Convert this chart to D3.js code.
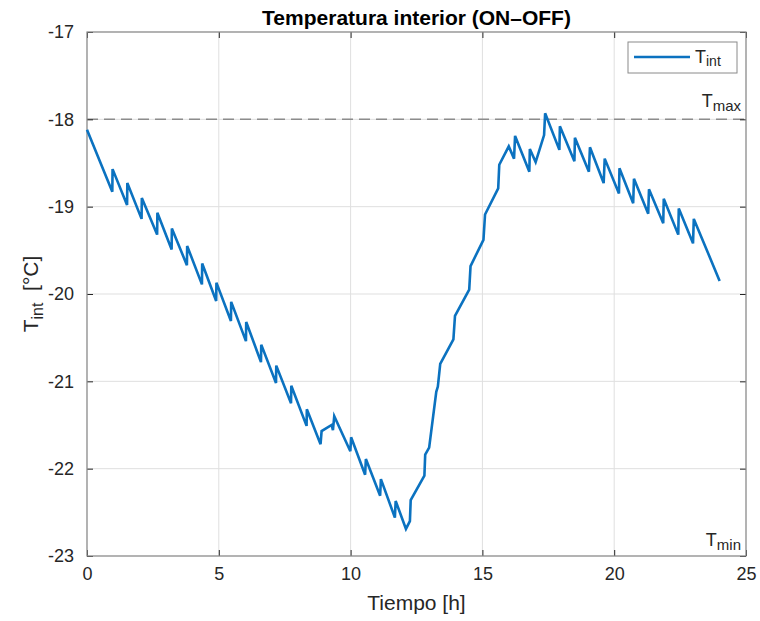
<!DOCTYPE html>
<html>
<head>
<meta charset="utf-8">
<script src="https://cdn.jsdelivr.net/npm/d3@7"></script>
<style>
body{margin:0;background:#fff;}
svg{display:block;}
text{font-family:"Liberation Sans",Arial,sans-serif;}
</style>
</head>
<body>
<div id="chart"></div>
<script>
// Data
const time = [0,0.96,0.97,1.52,1.53,2.07,2.08,2.66,2.67,3.21,3.22,3.79,3.80,4.36,4.37,4.90,4.91,5.46,5.47,6.03,6.04,6.60,6.61,7.17,7.18,7.74,7.75,8.33,8.34,8.86,8.90,9.28,9.33,9.38,9.99,10.02,10.55,10.58,11.12,11.15,11.68,11.71,12.10,12.25,12.28,12.80,12.83,12.98,13.25,13.31,13.40,13.90,13.96,14.50,14.55,15.04,15.10,15.60,15.64,16.00,16.20,16.24,16.78,16.80,17.02,17.34,17.38,17.92,17.94,18.49,18.51,19.04,19.08,19.60,19.64,20.18,20.20,20.72,20.75,21.29,21.32,21.86,21.88,22.43,22.45,22.99,23.02,24.0];
const tint = [-18.12,-18.83,-18.57,-18.98,-18.73,-19.14,-18.90,-19.32,-19.07,-19.49,-19.25,-19.67,-19.45,-19.89,-19.65,-20.08,-19.87,-20.31,-20.09,-20.54,-20.32,-20.78,-20.58,-21.02,-20.82,-21.25,-21.05,-21.51,-21.32,-21.72,-21.57,-21.50,-21.56,-21.40,-21.80,-21.64,-22.07,-21.89,-22.31,-22.12,-22.56,-22.37,-22.69,-22.60,-22.36,-22.08,-21.84,-21.76,-21.12,-21.06,-20.80,-20.52,-20.25,-19.95,-19.68,-19.38,-19.09,-18.79,-18.52,-18.31,-18.45,-18.19,-18.60,-18.34,-18.49,-18.18,-17.93,-18.35,-18.08,-18.48,-18.21,-18.60,-18.32,-18.73,-18.45,-18.85,-18.56,-18.96,-18.68,-19.08,-18.80,-19.19,-18.91,-19.32,-19.02,-19.42,-19.14,-19.85];
const xTicks = [0,5,10,15,20,25];
const yTicks = [-23,-22,-21,-20,-19,-18,-17];
const Tmax = -18, Tmin = -23;

const W = 760, H = 621;
const m = {left:87, top:32, right:14, bottom:65};
const pw = W - m.left - m.right, ph = H - m.top - m.bottom;

const svg = d3.select("#chart").append("svg").attr("width",W).attr("height",H);
const x = d3.scaleLinear().domain([0,25]).range([m.left, m.left+pw]);
const y = d3.scaleLinear().domain([-23,-17]).range([m.top+ph, m.top]);

// grid
const g = svg.append("g");
g.selectAll(".vg").data(xTicks).enter().append("line")
  .attr("x1",d=>x(d)).attr("x2",d=>x(d)).attr("y1",m.top).attr("y2",m.top+ph)
  .attr("stroke","#dfdfdf").attr("stroke-width",1);
g.selectAll(".hg").data(yTicks).enter().append("line")
  .attr("y1",d=>y(d)).attr("y2",d=>y(d)).attr("x1",m.left).attr("x2",m.left+pw)
  .attr("stroke","#dfdfdf").attr("stroke-width",1);

// Tmax dashed line
svg.append("line").attr("x1",m.left).attr("x2",m.left+pw).attr("y1",y(Tmax)).attr("y2",y(Tmax))
  .attr("stroke","#8c8c8c").attr("stroke-width",1.5).attr("stroke-dasharray","11,6");

// axes with inward ticks
const tk = 6;
const axB = d3.axisBottom(x).tickValues(xTicks).tickSizeInner(-tk).tickSizeOuter(0).tickPadding(11).tickFormat(d3.format("d"));
const axT = d3.axisTop(x).tickValues(xTicks).tickSizeInner(-tk).tickSizeOuter(0).tickFormat("");
const axL = d3.axisLeft(y).tickValues(yTicks).tickSizeInner(-tk).tickSizeOuter(0).tickPadding(13).tickFormat(d=>d3.format("d")(d).replace("−","-"));
const axR = d3.axisRight(y).tickValues(yTicks).tickSizeInner(-tk).tickSizeOuter(0).tickFormat("");

function style(sel){
  sel.select(".domain").remove();
  sel.selectAll(".tick line").attr("stroke","#262626").attr("stroke-width",1);
  sel.selectAll(".tick text").attr("fill","#262626").style("font-size","18px").style("font-family","'Liberation Sans',Arial,sans-serif");
}
svg.append("g").attr("transform",`translate(0,${m.top+ph})`).call(axB).call(style);
svg.append("g").attr("transform",`translate(0,${m.top})`).call(axT).call(style);
svg.append("g").attr("transform",`translate(${m.left},0)`).call(axL).call(style);
svg.append("g").attr("transform",`translate(${m.left+pw},0)`).call(axR).call(style);

// frame
svg.append("rect").attr("x",m.left).attr("y",m.top).attr("width",pw).attr("height",ph)
  .attr("fill","none").attr("stroke","#8a8a8a").attr("stroke-width",1.2);

// line
const pts = time.map((t,i)=>[t,tint[i]]);
svg.append("path").datum(pts)
  .attr("fill","none").attr("stroke","#0b72c0").attr("stroke-width",2.6).attr("stroke-linejoin","miter").attr("stroke-miterlimit",4)
  .attr("d", d3.line().x(d=>x(d[0])).y(d=>y(d[1])));

// Tmax / Tmin labels
function sublabel(px,py,main,sub,anchor){
  const t = svg.append("text").attr("x",px).attr("y",py).attr("text-anchor",anchor)
    .attr("fill","#262626").style("font-size","18px");
  t.append("tspan").text(main);
  t.append("tspan").attr("dy",4).style("font-size","15px").text(sub);
  return t;
}
sublabel(m.left+pw-5, y(Tmax)-12, "T", "max", "end");
sublabel(m.left+pw-5, y(Tmin)-10, "T", "min", "end");

// legend
const lg = svg.append("g");
lg.append("rect").attr("x",628).attr("y",42).attr("width",109).attr("height",31)
  .attr("fill","#fff").attr("stroke","#8a8a8a").attr("stroke-width",1);
lg.append("line").attr("x1",634).attr("x2",690).attr("y1",57).attr("y2",57)
  .attr("stroke","#0b72c0").attr("stroke-width",2.6);
const lt = lg.append("text").attr("x",695).attr("y",63).attr("fill","#262626").style("font-size","18px");
lt.append("tspan").text("T");
lt.append("tspan").attr("dy",3).style("font-size","14px").text("int");

// title
svg.append("text").attr("x",m.left+pw/2).attr("y",25).attr("text-anchor","middle")
  .attr("fill","#000").style("font-size","21px").style("font-weight","bold")
  .text("Temperatura interior (ON–OFF)");

// x label
svg.append("text").attr("x",m.left+pw/2).attr("y",610).attr("text-anchor","middle")
  .attr("fill","#262626").style("font-size","21px").text("Tiempo [h]");

// y label
const yl = svg.append("text").attr("transform",`translate(38,${m.top+ph/2}) rotate(-90)`)
  .attr("text-anchor","middle").attr("fill","#262626").style("font-size","21px");
yl.append("tspan").text("T");
yl.append("tspan").attr("dy",5).style("font-size","16px").text("int");
yl.append("tspan").attr("dy",-5).text("\u00a0\u00a0[°C]");
</script>
</body>
</html>
